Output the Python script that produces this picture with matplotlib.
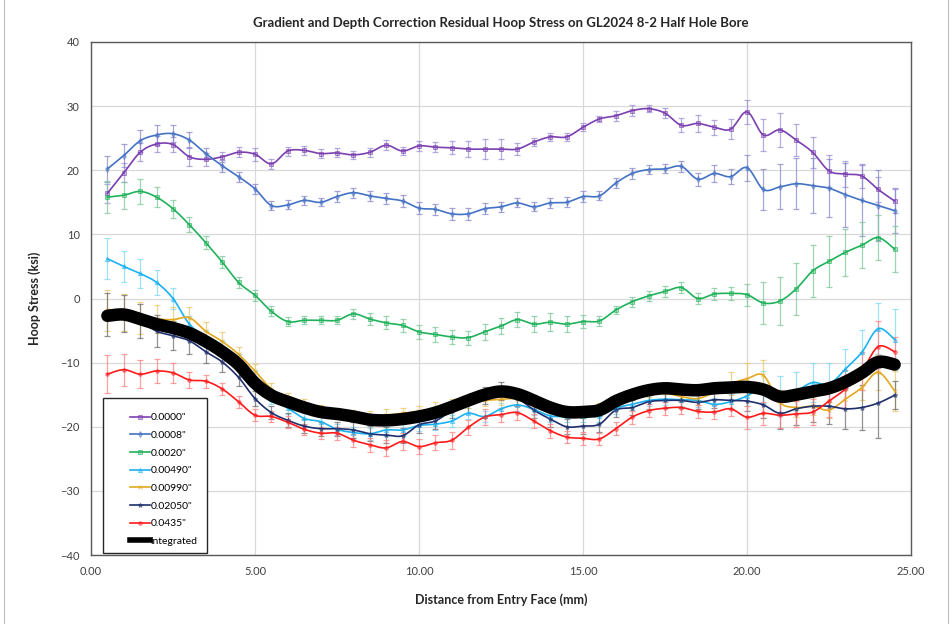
import numpy as np
import matplotlib
matplotlib.use("Agg")
import matplotlib.pyplot as plt
from matplotlib.lines import Line2D
from matplotlib.patches import Rectangle
from matplotlib.colors import to_rgba

plt.rcParams['font.family'] = ['Lato', 'DejaVu Sans']

title = "Gradient and Depth Correction Residual Hoop Stress on GL2024 8-2 Half Hole Bore"
xlabel = "Distance from Entry Face (mm)"
ylabel = "Hoop Stress (ksi)"

distance = [0.5, 1.0, 1.5, 2.0, 2.5, 3.0, 3.5, 4.0, 4.5, 5.0, 5.5, 6.0, 6.5, 7.0, 7.5, 8.0,
            8.5, 9.0, 9.5, 10.0, 10.5, 11.0, 11.5, 12.0, 12.5, 13.0, 13.5, 14.0, 14.5, 15.0,
            15.5, 16.0, 16.5, 17.0, 17.5, 18.0, 18.5, 19.0, 19.5, 20.0, 20.5, 21.0, 21.5,
            22.0, 22.5, 23.0, 23.5, 24.0, 24.5]

labels = ['0.0000"', '0.0008"', '0.0020"', '0.00490"', '0.00990"', '0.02050"', '0.0435"']

s_00000 = [16.4, 19.6, 22.8, 24.1, 24.0, 22.1, 21.7, 22.1, 22.8, 22.5, 21.0, 23.0, 23.1, 22.6, 22.7, 22.4,
           22.8, 23.9, 23.0, 23.8, 23.6, 23.5, 23.3, 23.3, 23.3, 23.3, 24.4, 25.2, 25.2, 26.7,
           28.0, 28.5, 29.3, 29.6, 28.9, 27.0, 27.3, 26.7, 26.4, 29.1, 25.5, 26.3, 24.7,
           22.8, 19.9, 19.4, 19.1, 17.0, 15.2]
e_00000 = [1.5, 1.5, 1.4, 1.2, 1.2, 1.5, 1.0, 0.8, 0.8, 1.0, 0.8, 0.7, 0.7, 0.7, 0.7, 0.6,
           0.7, 0.8, 0.6, 0.8, 0.8, 1.0, 1.3, 1.5, 1.6, 0.9, 0.6, 0.6, 0.6, 0.6,
           0.5, 0.8, 0.8, 0.5, 0.8, 1.1, 1.3, 1.2, 1.6, 1.9, 2.5, 2.7, 2.5,
           2.4, 2.5, 2.0, 1.9, 2.0, 1.9]

s_00008 = [20.2, 22.3, 24.6, 25.5, 25.7, 24.7, 22.6, 20.7, 19.0, 17.1, 14.5, 14.6, 15.3, 15.0, 15.9, 16.5,
           16.0, 15.6, 15.2, 14.1, 13.9, 13.2, 13.2, 14.0, 14.3, 14.9, 14.3, 14.9, 15.0, 15.9,
           16.0, 18.0, 19.5, 20.1, 20.2, 20.6, 18.6, 19.5, 19.0, 20.4, 17.0, 17.4, 17.9,
           17.6, 17.2, 16.2, 15.3, 14.5, 13.7]
e_00008 = [2.0, 1.8, 1.7, 1.5, 1.3, 1.3, 0.9, 0.9, 0.8, 0.8, 0.7, 0.7, 0.7, 0.6, 0.8, 0.8,
           0.8, 0.9, 0.9, 1.0, 0.9, 0.9, 0.9, 0.9, 0.8, 0.7, 0.7, 0.8, 0.8, 0.8,
           0.7, 0.8, 0.8, 0.7, 0.7, 0.8, 1.0, 1.3, 1.2, 2.0, 3.2, 3.5, 4.0,
           4.3, 4.5, 5.0, 5.5, 5.5, 3.5]

s_00020 = [15.8, 16.1, 16.7, 15.8, 14.0, 11.5, 8.7, 5.7, 2.5, 0.5, -2.0, -3.6, -3.4, -3.4, -3.4, -2.4,
           -3.2, -3.8, -4.2, -5.2, -5.6, -6.0, -6.1, -5.2, -4.3, -3.3, -4.0, -3.7, -4.0, -3.6,
           -3.5, -1.8, -0.5, 0.4, 1.1, 1.7, 0.0, 0.7, 0.8, 0.6, -0.7, -0.4, 1.5,
           4.3, 5.8, 7.2, 8.3, 9.5, 7.7]
e_00020 = [2.5, 2.1, 1.9, 1.6, 1.4, 1.2, 1.0, 1.0, 0.9, 0.9, 0.8, 0.7, 0.6, 0.6, 0.6, 0.8,
           1.0, 1.0, 1.0, 1.1, 1.2, 1.1, 1.1, 1.2, 1.2, 1.2, 1.3, 1.4, 1.2, 1.0,
           0.8, 0.6, 0.8, 0.8, 0.8, 0.9, 0.8, 0.9, 1.0, 1.7, 3.2, 3.8, 4.1,
           4.1, 4.0, 3.7, 3.6, 3.5, 3.6]

s_00490 = [6.2, 5.0, 3.9, 2.5, 0.0, -4.0, -6.0, -7.6, -9.6, -12.2, -15.6, -17.1, -18.7, -19.2, -20.4, -20.9,
           -21.1, -20.5, -20.5, -19.8, -19.6, -19.1, -17.9, -18.4, -17.2, -16.6, -17.3, -18.3, -18.4, -18.4,
           -18.3, -17.1, -16.5, -15.9, -15.7, -15.8, -15.9, -16.5, -16.1, -15.2, -13.8, -15.2, -14.4,
           -13.1, -13.4, -11.0, -8.4, -4.7, -6.4]
e_00490 = [3.2, 2.4, 2.2, 2.0, 1.7, 1.2, 1.0, 1.0, 0.9, 0.9, 0.9, 0.9, 0.9, 0.9, 0.9, 0.9,
           0.9, 0.9, 0.9, 0.9, 0.9, 0.9, 0.9, 0.9, 0.9, 0.9, 0.9, 0.9, 0.9, 0.9,
           0.9, 0.9, 0.9, 0.9, 0.9, 0.9, 1.0, 1.0, 1.2, 1.6, 2.5, 3.1, 3.0,
           3.1, 3.3, 3.1, 3.5, 4.0, 4.7]

s_00990 = [-1.8, -2.2, -3.0, -3.2, -3.3, -3.0, -5.1, -6.7, -8.7, -11.3, -14.1, -15.7, -16.5, -17.5, -17.9, -18.3,
           -18.5, -18.2, -17.9, -17.6, -17.1, -16.6, -16.1, -15.9, -15.7, -15.6, -16.0, -17.0, -17.6, -17.6,
           -17.2, -15.9, -15.0, -14.4, -14.7, -15.3, -15.6, -14.6, -13.3, -12.5, -12.0, -16.2, -17.0,
           -16.8, -17.4, -15.7, -13.9, -11.5, -14.4]
e_00990 = [3.2, 2.9, 2.5, 2.2, 2.0, 1.7, 1.5, 1.4, 1.2, 1.1, 1.0, 1.0, 0.9, 0.9, 0.9, 0.9,
           0.9, 0.9, 0.9, 0.9, 0.9, 0.9, 0.9, 0.9, 0.9, 0.9, 0.9, 0.9, 0.9, 0.9,
           0.9, 0.9, 0.9, 0.9, 0.9, 0.9, 1.0, 1.2, 1.8, 2.5, 2.4, 2.0, 1.5,
           1.4, 1.2, 1.5, 2.0, 2.7, 3.1]

s_02050 = [-2.5, -2.4, -3.5, -5.1, -5.8, -6.6, -8.3, -9.9, -12.3, -15.6, -17.8, -19.0, -19.9, -20.3, -20.3, -20.5,
           -21.1, -21.3, -21.4, -19.7, -19.1, -17.5, -16.5, -15.1, -14.4, -15.5, -17.4, -18.8, -20.0, -19.9,
           -19.6, -17.4, -17.0, -16.1, -15.9, -15.9, -16.2, -15.8, -15.9, -16.0, -16.6, -17.9, -17.2,
           -16.8, -16.8, -17.2, -17.0, -16.3, -15.1]
e_02050 = [3.3, 2.9, 2.7, 2.5, 2.3, 2.0, 1.8, 1.5, 1.3, 1.2, 1.0, 1.1, 1.1, 1.1, 1.1, 1.2,
           1.2, 1.3, 1.2, 1.2, 1.2, 1.2, 1.3, 1.3, 1.4, 1.3, 1.2, 1.2, 1.2, 1.2,
           1.2, 1.1, 1.1, 1.1, 1.1, 1.1, 1.1, 1.2, 1.3, 1.5, 2.0, 2.5, 2.5,
           2.5, 2.8, 3.2, 3.5, 5.4, 2.2]

s_04350 = [-11.8, -11.1, -11.8, -11.3, -11.6, -12.7, -12.9, -14.1, -16.1, -18.2, -18.4, -19.3, -20.4, -21.0, -21.0, -22.1,
           -22.8, -23.3, -22.3, -23.1, -22.5, -22.1, -20.1, -18.5, -18.1, -17.8, -19.1, -20.6, -21.6, -21.8,
           -21.9, -20.3, -18.5, -17.5, -17.1, -17.0, -17.6, -17.7, -17.2, -18.5, -17.9, -18.2, -18.0,
           -17.7, -16.0, -14.1, -11.3, -7.5, -8.3]
e_04350 = [3.0, 2.5, 2.2, 1.9, 1.5, 1.2, 1.0, 1.0, 0.9, 0.9, 0.9, 0.9, 0.9, 0.9, 1.0, 1.0,
           1.1, 1.2, 1.3, 1.2, 1.2, 1.3, 1.2, 1.2, 1.1, 1.1, 1.1, 1.1, 1.0, 1.0,
           1.0, 1.0, 1.0, 1.0, 1.0, 1.0, 1.0, 1.1, 1.2, 1.8, 1.8, 2.0, 2.0,
           2.0, 2.5, 3.0, 2.9, 4.0, 2.3]

integrated = [-2.7, -2.5, -3.2, -4.0, -4.6, -5.4, -6.7, -8.3, -10.3, -13.2, -15.1, -16.1, -17.0, -17.7, -18.0, -18.4,
              -18.9, -19.0, -18.8, -18.4, -17.8, -16.9, -15.9, -15.0, -14.5, -14.9, -15.9, -17.0, -17.7, -17.7,
              -17.4, -16.0, -15.0, -14.3, -14.0, -14.2, -14.3, -14.0, -13.9, -13.8, -14.2, -15.3, -15.0,
              -14.5, -14.0, -13.0, -11.6, -9.9, -10.3]

xticks = [0, 5, 10, 15, 20, 25]
yticks = [-40, -30, -20, -10, 0, 10, 20, 30, 40]

series = [
    (s_00000, e_00000, '#7B3FB0', 's', 3.0),
    (s_00008, e_00008, '#4472C4', 'd', 3.0),
    (s_00020, e_00020, '#1FB25A', 's', 3.0),
    (s_00490, e_00490, '#1AB2F0', '^', 3.0),
    (s_00990, e_00990, '#E3A81E', 'x', 3.5),
    (s_02050, e_02050, '#1F2F6E', '*', 3.5),
    (s_04350, e_04350, '#FF1A1A', 'o', 2.5),
]
err_colors = ['#9D8FD6', '#8A86CC', '#7CC79A', '#7FD8F8', '#E9C66A', '#6E6E6E', '#FF8080']


def smooth(x, y, n=16):
    """Excel-style smoothed line (Catmull-Rom / cubic Bezier)."""
    x = np.asarray(x, float)
    y = np.asarray(y, float)
    P = np.column_stack([x, y])
    Pp = np.vstack([P[0], P, P[-1]])
    t = np.linspace(0, 1, n, endpoint=False)[:, None]
    out = []
    for i in range(len(P) - 1):
        p0, p1, p2, p3 = Pp[i], Pp[i + 1], Pp[i + 2], Pp[i + 3]
        c1 = p1 + (p2 - p0) / 6.0
        c2 = p2 - (p3 - p1) / 6.0
        b = ((1 - t) ** 3) * p1 + 3 * ((1 - t) ** 2) * t * c1 + 3 * (1 - t) * t ** 2 * c2 + t ** 3 * p2
        out.append(b)
    out.append(P[-1][None, :])
    out = np.vstack(out)
    return out[:, 0], out[:, 1]


fig = plt.figure(figsize=(9.53, 6.24), dpi=100)
ax = fig.add_axes([91 / 953, 1 - 555 / 624, 820 / 953, 513 / 624])

fig.patches.append(Rectangle((4 / 953, -0.01), 944 / 953, 1.02, transform=fig.transFigure,
                             fill=False, edgecolor='#BFBFBF', linewidth=0.8))

handles = []
for (vals, errs, col, mk, ms), ecol in zip(series, err_colors):
    ax.errorbar(distance, vals, yerr=errs, fmt='none', ecolor=to_rgba(ecol, 0.75),
                elinewidth=0.9, capsize=2.2, capthick=0.9, zorder=2)
    sx, sy = smooth(distance, vals)
    ax.plot(sx, sy, color=col, linewidth=1.2, zorder=3)
    ax.plot(distance, vals, linestyle='none', marker=mk, markersize=ms,
            markerfacecolor=to_rgba(col, 0.35), markeredgecolor=to_rgba(col, 0.6),
            markeredgewidth=0.7, zorder=4)
    handles.append(Line2D([], [], color=col, linewidth=1.2, marker=mk, markersize=ms,
                          markerfacecolor=to_rgba(col, 0.35), markeredgecolor=to_rgba(col, 0.6),
                          markeredgewidth=0.7))

sx, sy = smooth(distance, integrated)
ax.plot(sx, sy, color='black', linewidth=9.0, solid_capstyle='round', zorder=5)
handles.append(Line2D([], [], color='black', linewidth=4.0))

ax.set_xlim(0, 25)
ax.set_ylim(-40, 40)
ax.set_xticks(xticks)
ax.set_xticklabels([f"{v:.2f}" for v in xticks])
ax.set_yticks(yticks)
ax.grid(True, color='#D9D9D9', linewidth=0.9)
ax.set_axisbelow(True)
for sp in ax.spines.values():
    sp.set_color('#595959')
    sp.set_linewidth(1.0)
ax.tick_params(axis='both', length=0, labelsize=8, colors='#404040', pad=8)

ax.set_title(title, fontsize=9.5, fontweight='bold', color='#262626', pad=11)
ax.set_xlabel(xlabel, fontsize=9, fontweight='bold', color='#262626', labelpad=12)
ax.set_ylabel(ylabel, fontsize=9, fontweight='bold', color='#262626', labelpad=14)

# legend frame drawn separately so the entries can sit indented like the original
ax.add_patch(Rectangle((12 / 820, 2 / 513), 104 / 820, 155 / 513, transform=ax.transAxes,
                       facecolor='white', edgecolor='#262626', linewidth=1.0, zorder=6))
leg = ax.legend(handles, labels + ['integrated'], loc='lower left',
                bbox_to_anchor=(34 / 820, 4 / 513), borderaxespad=0, fontsize=7.5,
                frameon=False, handlelength=1.9, handletextpad=0.05, labelspacing=0.8,
                borderpad=0.5)
leg.set_zorder(7)

fig.savefig("out.png", dpi=100)
